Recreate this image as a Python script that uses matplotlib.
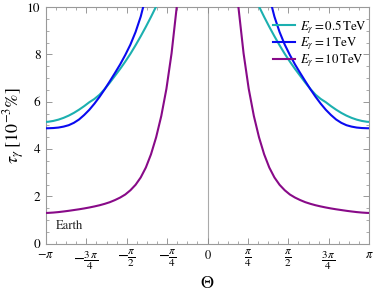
import numpy as np
import matplotlib
matplotlib.use('Agg')
import matplotlib.pyplot as plt
from matplotlib.ticker import MultipleLocator

plt.rcParams['font.family'] = 'serif'
plt.rcParams['font.serif'] = ['STIXGeneral', 'Liberation Serif', 'DejaVu Serif']
plt.rcParams['mathtext.fontset'] = 'stix'

# |Theta| in rad (curves are symmetric in Theta)
theta_05 = [1.00, 1.10, 1.20, 1.30, 1.40, 1.50, 1.60, 1.70, 1.80, 1.90, 2.00, 2.10,
            2.20, 2.30, 2.40, 2.50, 2.60, 2.70, 2.80, 2.90, 3.00, 3.10, np.pi]
tau_05 = [10.03, 9.59, 9.17, 8.77, 8.39, 8.03, 7.70, 7.39, 7.10, 6.81, 6.54, 6.30,
          6.12, 5.98, 5.815, 5.665, 5.53, 5.415, 5.32, 5.245, 5.19, 5.155, 5.15]

theta_1 = [1.20, 1.30, 1.40, 1.50, 1.60, 1.70, 1.80, 1.90, 2.00, 2.10, 2.20, 2.30,
           2.40, 2.50, 2.60, 2.70, 2.80, 2.90, 3.00, 3.10, np.pi]
tau_1 = [10.45, 9.60, 8.95, 8.42, 7.98, 7.58, 7.22, 6.87, 6.53, 6.21, 5.92, 5.66,
         5.44, 5.25, 5.11, 5.01, 4.95, 4.91, 4.89, 4.881, 4.88]

theta_10 = [0.55, 0.60, 0.70, 0.80, 0.90, 1.00, 1.10, 1.20, 1.30, 1.40, 1.50, 1.60,
            1.70, 1.80, 1.90, 2.00, 2.10, 2.20, 2.30, 2.40, 2.50, 2.60, 2.70,
            2.80, 2.90, 3.00, 3.10, np.pi]
tau_10 = [11.3, 10.0, 8.05, 6.55, 5.40, 4.50, 3.78, 3.22, 2.80, 2.49, 2.26, 2.08,
          1.95, 1.845, 1.755, 1.685, 1.625, 1.575, 1.53, 1.49, 1.454, 1.422, 1.39,
          1.362, 1.336, 1.316, 1.302, 1.30]

series = [
    (theta_05, tau_05, '#1cb0b0', r'$E_\gamma = 0.5\,\mathrm{TeV}$'),
    (theta_1, tau_1, '#0a0af0', r'$E_\gamma = 1\,\mathrm{TeV}$'),
    (theta_10, tau_10, '#880a88', r'$E_\gamma = 10\,\mathrm{TeV}$'),
]

xticks = [-np.pi, -3*np.pi/4, -np.pi/2, -np.pi/4, 0, np.pi/4, np.pi/2, 3*np.pi/4, np.pi]
xticklabels = [r'$-\pi$', r'$-\frac{3\,\pi}{4}$', r'$-\frac{\pi}{2}$', r'$-\frac{\pi}{4}$', r'$0$',
               r'$\frac{\pi}{4}$', r'$\frac{\pi}{2}$', r'$\frac{3\,\pi}{4}$', r'$\pi$']

fig = plt.figure(figsize=(3.74, 2.99), dpi=100)
ax = fig.add_axes([0.123, 0.185, 0.864, 0.791])

ax.axvline(0, color='#aaaaaa', lw=0.8, zorder=1)

for th, tau, c, lab in series:
    th = np.array(th)
    ax.plot(th, tau, color=c, lw=1.5, label=lab, zorder=3)
    ax.plot(-th, tau, color=c, lw=1.5, zorder=3)

ax.set_xlim(-np.pi, np.pi)
ax.set_ylim(0, 10)
ax.set_xticks(xticks)
ax.set_xticklabels(xticklabels)
for t, s in zip(ax.get_xticklabels(), xticklabels):
    t.set_fontsize(11.5 if 'frac' in s else 9)
ax.xaxis.set_minor_locator(MultipleLocator(np.pi/16))
ax.yaxis.set_major_locator(MultipleLocator(2))
ax.yaxis.set_minor_locator(MultipleLocator(0.5))
ax.tick_params(axis='both', which='both', direction='in', top=True, right=True,
               color='#888888')
ax.tick_params(axis='y', labelsize=9.5, pad=4)
ax.tick_params(which='major', length=4, width=0.6)
ax.tick_params(which='minor', length=2, width=0.5)
ax.tick_params(axis='x', pad=4)
for s in ax.spines.values():
    s.set_color('#999999')
    s.set_linewidth(0.8)

ax.set_xlabel(r'$\Theta$', fontsize=13, labelpad=3)
ax.set_ylabel(r'$\tau_\gamma\;[10^{-3}\%]$', fontsize=13, labelpad=0)

ax.text(-np.pi + 0.19, 0.62, 'Earth', fontsize=9, color='#222222')

ax.legend(loc='upper right', frameon=False, fontsize=9.3, handlelength=1.7,
          handletextpad=0.35, labelspacing=0.0, borderaxespad=0, borderpad=0.2,
          bbox_to_anchor=(1.0, 0.965))

fig.savefig('out.png', dpi=100)
